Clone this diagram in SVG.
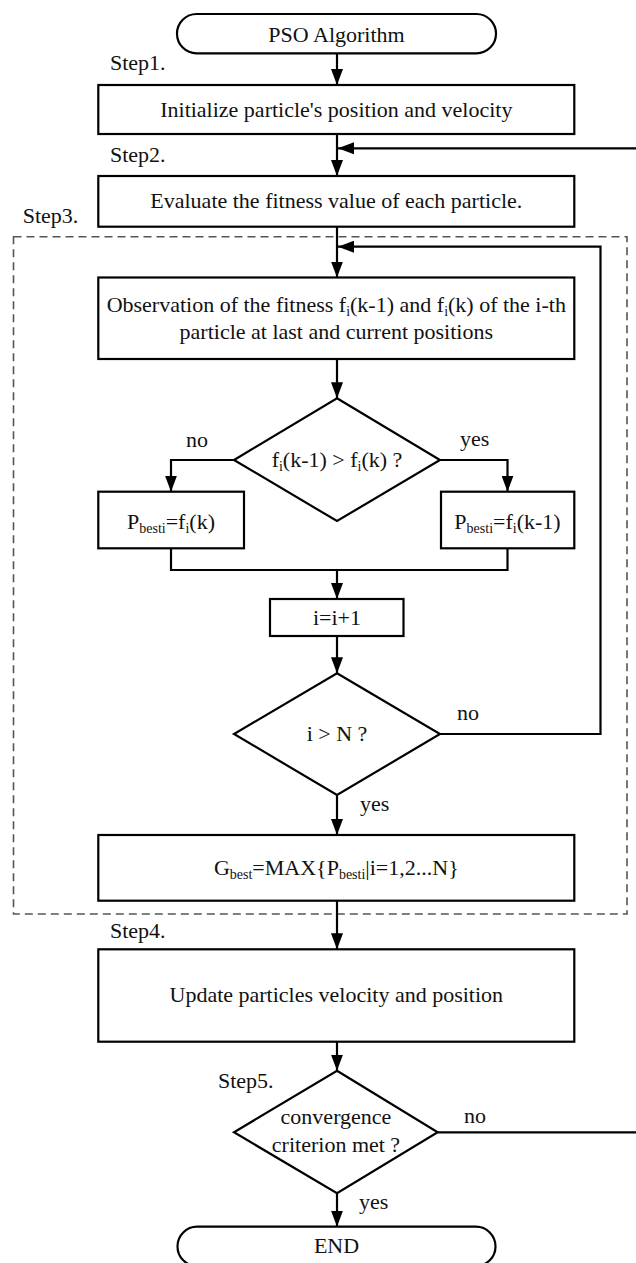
<svg xmlns="http://www.w3.org/2000/svg" width="636" height="1263" viewBox="0 0 636 1263">
<style>
  .box{fill:#fff;stroke:#000;stroke-width:2.2}
  .ln{fill:none;stroke:#000;stroke-width:2.2}
  .dash{fill:none;stroke:#555;stroke-width:1.6;stroke-dasharray:8 5}
  text{font-family:"Liberation Serif","Times New Roman",serif;font-size:22px;fill:#111}
  .c{text-anchor:middle}
  .sub{font-size:14px}
</style>
<defs>
  <marker id="ah" markerUnits="userSpaceOnUse" viewBox="0 0 16 12" refX="16" refY="6" markerWidth="16" markerHeight="12" orient="auto">
    <path d="M0,0 L16,6 L0,12 z" fill="#000"/>
  </marker>
</defs>
<rect id="step3-frame" class="dash" x="13.5" y="236.7" width="613.5" height="677.3"/>
<g id="connectors">
  <path class="ln" d="M337,53.3 V85" marker-end="url(#ah)"/>
  <path class="ln" d="M337,134 V176" marker-end="url(#ah)"/>
  <path class="ln" d="M438,1132.3 H645 V148.3 H338" marker-end="url(#ah)"/>
  <path class="ln" d="M337,226.7 V277.5" marker-end="url(#ah)"/>
  <path class="ln" d="M440,734 H600.5 V246.7 H338" marker-end="url(#ah)"/>
  <path class="ln" d="M337,359 V398.3" marker-end="url(#ah)"/>
  <path class="ln" d="M234,460 H171 V491.7" marker-end="url(#ah)"/>
  <path class="ln" d="M440,460 H507.5 V491.7" marker-end="url(#ah)"/>
  <path class="ln" d="M171,548.3 V570 H507.5 V548.3"/>
  <path class="ln" d="M337,570 V599" marker-end="url(#ah)"/>
  <path class="ln" d="M337,636 V673.3" marker-end="url(#ah)"/>
  <path class="ln" d="M337,795 V835" marker-end="url(#ah)"/>
  <path class="ln" d="M337,900.7 V949.3" marker-end="url(#ah)"/>
  <path class="ln" d="M337,1041.7 V1070.7" marker-end="url(#ah)"/>
  <path class="ln" d="M337,1193.3 V1226.7" marker-end="url(#ah)"/>
</g>
<g id="labels">
  <text x="110" y="70">Step1.</text>
  <text x="110" y="161.7">Step2.</text>
  <text x="22.7" y="223.3">Step3.</text>
  <text x="110" y="938.3">Step4.</text>
  <text x="218" y="1088.3">Step5.</text>
  <text x="186" y="446.5">no</text>
  <text x="460" y="446">yes</text>
  <text x="457" y="720">no</text>
  <text x="360" y="810.5">yes</text>
  <text x="464" y="1123">no</text>
  <text x="359" y="1208.5">yes</text>
</g>
<g id="start">
  <rect class="box" x="177" y="14" width="319" height="39.3" rx="19.6" ry="19.6"/>
  <text class="c" x="336.5" y="41.5">PSO Algorithm</text>
</g>
<g id="init">
  <rect class="box" x="98.3" y="85" width="476" height="49"/>
  <text class="c" x="336.3" y="116.7">Initialize particle's position and velocity</text>
</g>
<g id="evaluate">
  <rect class="box" x="98.3" y="176" width="476" height="50.7"/>
  <text class="c" x="336.3" y="208">Evaluate the fitness value of each particle.</text>
</g>
<g id="observe">
  <rect class="box" x="98.3" y="277.5" width="476" height="81.5"/>
  <text class="c" x="336.3" y="312">Observation of the fitness f<tspan class="sub" dy="4">i</tspan><tspan dy="-4">(k-1) and f</tspan><tspan class="sub" dy="4">i</tspan><tspan dy="-4">(k) of the i-th</tspan></text>
  <text class="c" x="336.3" y="339">particle at last and current positions</text>
</g>
<g id="compare">
  <path class="box" d="M337,398.3 L440,460 L337,521 L234,460 Z"/>
  <text class="c" x="337" y="467">f<tspan class="sub" dy="4">i</tspan><tspan dy="-4">(k-1) &gt; f</tspan><tspan class="sub" dy="4">i</tspan><tspan dy="-4">(k) ?</tspan></text>
</g>
<g id="pbest-no">
  <rect class="box" x="98.3" y="491.7" width="145.7" height="56.6"/>
  <text class="c" x="171" y="529">P<tspan class="sub" dy="4">besti</tspan><tspan dy="-4">=f</tspan><tspan class="sub" dy="4">i</tspan><tspan dy="-4">(k)</tspan></text>
</g>
<g id="pbest-yes">
  <rect class="box" x="441" y="491.7" width="133.3" height="56.6"/>
  <text class="c" x="507.5" y="529">P<tspan class="sub" dy="4">besti</tspan><tspan dy="-4">=f</tspan><tspan class="sub" dy="4">i</tspan><tspan dy="-4">(k-1)</tspan></text>
</g>
<g id="increment">
  <rect class="box" x="270" y="599" width="133.5" height="37"/>
  <text class="c" x="337" y="625">i=i+1</text>
</g>
<g id="check-n">
  <path class="box" d="M337,673.3 L440,734 L337,795 L234,734 Z"/>
  <text class="c" x="337" y="741">i &gt; N ?</text>
</g>
<g id="gbest">
  <rect class="box" x="98.3" y="835" width="476" height="65.7"/>
  <text class="c" x="336.3" y="875">G<tspan class="sub" dy="4">best</tspan><tspan dy="-4">=MAX{P</tspan><tspan class="sub" dy="4">besti</tspan><tspan dy="-4">|i=1,2...N}</tspan></text>
</g>
<g id="update">
  <rect class="box" x="98.3" y="949.3" width="476" height="92.4"/>
  <text class="c" x="336.3" y="1001.7">Update particles velocity and position</text>
</g>
<g id="converge">
  <path class="box" d="M337,1070.7 L437.7,1132.3 L337,1193.3 L234,1132.3 Z"/>
  <text class="c" x="336" y="1124">convergence</text>
  <text class="c" x="336" y="1151.5">criterion met ?</text>
</g>
<g id="end">
  <rect class="box" x="177.5" y="1226.7" width="318" height="39.3" rx="19.6" ry="19.6"/>
  <text class="c" x="336.5" y="1253">END</text>
</g>
</svg>
